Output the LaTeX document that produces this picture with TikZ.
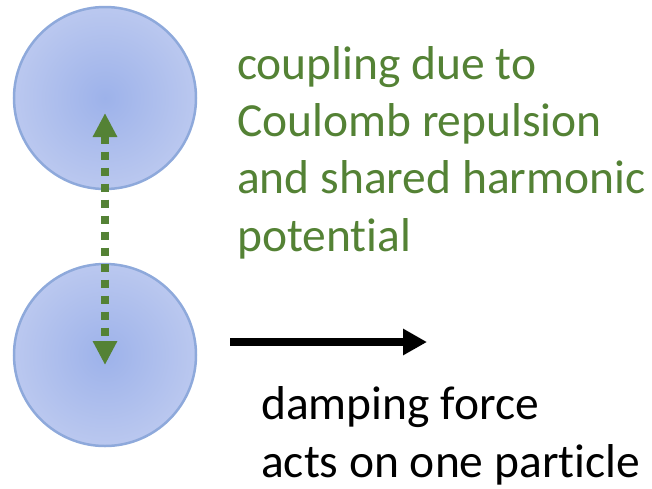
\documentclass[tikz,border=0pt]{standalone}
\usepackage{fontspec}
\setmainfont[Ligatures={NoCommon}]{Carlito}
\usetikzlibrary{arrows.meta}
\definecolor{ballin}{RGB}{157,178,234}
\definecolor{ballout}{RGB}{204,213,242}
\definecolor{balledge}{RGB}{142,169,219}
\definecolor{cgreen}{RGB}{84,130,53}
\pgfdeclareradialshading{ballshade}{\pgfpoint{0bp}{0bp}}{color(0bp)=(ballin); color(40bp)=(ballout); color(72bp)=(ballout)}
\tikzset{
  ball/.style={circle, draw=balledge, line width=2.5pt, shading=ballshade, minimum size=182pt, inner sep=0pt},
  coupling/.style={draw=cgreen, line width=8pt, dash pattern=on 8pt off 8pt, {Triangle[length=24pt,width=23pt]}-{Triangle[length=24pt,width=23pt]}},
  force/.style={draw=black, line width=8pt, -{Triangle[length=24pt,width=25pt]}},
  lbl/.style={anchor=base west, align=left, inner sep=0pt, font=\fontsize{47.5}{57.3}\selectfont}
}
\begin{document}
\begin{tikzpicture}[x=1pt,y=1pt]
\useasboundingbox (0,0) rectangle (652,-488);
\node[ball] (p1) at (105,-98) {};
\node[ball] (p2) at (105,-355) {};
\draw[coupling] ([yshift=-15pt]p1.center) -- ([yshift=-10pt]p2.center);
\coordinate (fs) at (230,-342);
\coordinate (fe) at (427,-342);
\draw[force] (fs) -- (fe);
\node[lbl, text=cgreen] (t1) at (237,-251) {coupling due to\\Coulomb repulsion\\and shared harmonic\\potential};
\node[lbl, text=black] (t2) at (261,-477) {damping force\\acts on one particle};
\end{tikzpicture}
\end{document}
